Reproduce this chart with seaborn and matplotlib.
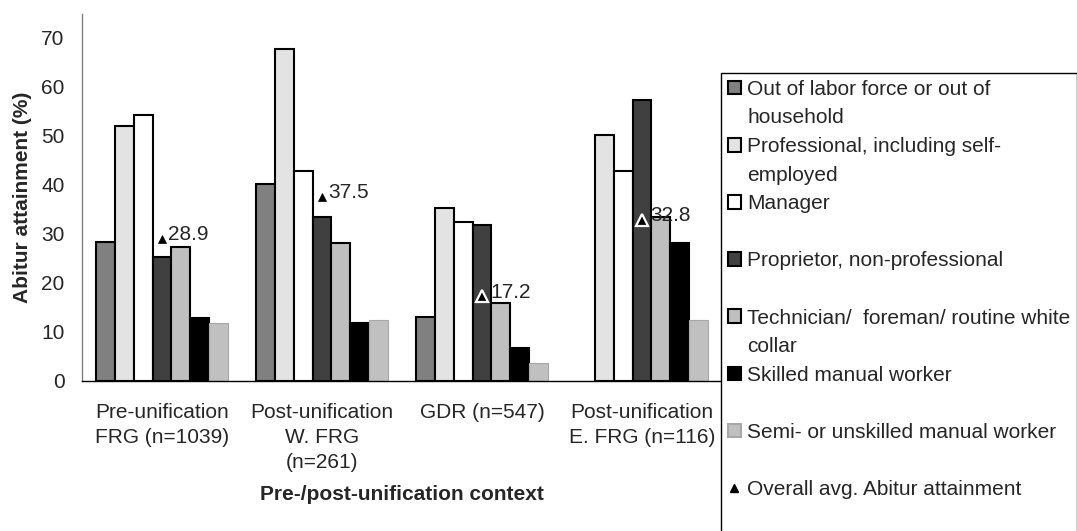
import matplotlib

matplotlib.use("Agg")

import matplotlib.pyplot as plt
from matplotlib.lines import Line2D
from matplotlib.patches import Patch
import numpy as np
import pandas as pd
import seaborn as sns

contexts = [
    "Pre-unification\nFRG (n=1039)",
    "Post-unification\nW. FRG\n(n=261)",
    "GDR (n=547)",
    "Post-unification\nE. FRG (n=116)",
]
classes = [
    "Out of labor force or out of household",
    "Professional, including self-employed",
    "Manager",
    "Proprietor, non-professional",
    "Technician/  foreman/ routine white collar",
    "Skilled manual worker",
    "Semi- or unskilled manual worker",
]
legend_lines = [
    ["Out of labor force or out of", "household"],
    ["Professional, including self-", "employed"],
    ["Manager", " "],
    ["Proprietor, non-professional", " "],
    ["Technician/  foreman/ routine white", "collar"],
    ["Skilled manual worker", " "],
    ["Semi- or unskilled manual worker", " "],
]
class_colors = ["#808080", "#e3e3e3", "#ffffff", "#404040", "#bfbfbf", "#000000", "#c0c0c0"]

out_of_labor = [28.2, 40.0, 13.0, np.nan]
professional = [52.0, 67.6, 35.3, 50.0]
manager = [54.2, 42.8, 32.4, 42.7]
proprietor = [25.2, 33.3, 31.7, 57.2]
technician = [27.3, 28.1, 15.9, 33.3]
skilled = [12.8, 11.9, 6.8, 28.0]
semi_unskilled = [11.9, 12.4, 3.6, 12.4]
overall_avg = [28.9, 37.5, 17.2, 32.8]

series = [out_of_labor, professional, manager, proprietor, technician, skilled, semi_unskilled]
rows = []
for cls, vals in zip(classes, series):
    for ctx, v in zip(contexts, vals):
        rows.append({"context": ctx, "class": cls, "value": v})
df = pd.DataFrame(rows).dropna()

FS = 15

sns.set_theme(style="white")
plt.rcParams["font.family"] = ["Liberation Sans", "DejaVu Sans"]
plt.rcParams["font.size"] = FS

fig = plt.figure(figsize=(10.77, 5.31), dpi=100)
ax = fig.add_axes([82 / 1077, 1 - 381 / 531, 640 / 1077, 367 / 531])

sns.barplot(
    data=df,
    x="context",
    y="value",
    hue="class",
    order=contexts,
    hue_order=classes,
    palette=class_colors,
    width=0.83,
    gap=0,
    edgecolor="black",
    linewidth=1.5,
    saturation=1,
    legend=False,
    ax=ax,
)
# lightest class has a soft grey outline
for patch in ax.containers[-1]:
    patch.set_edgecolor("#a8a8a8")
    patch.set_linewidth(0.8)

# overall averages, outlined in white when sitting on a dark bar
xs = np.arange(len(contexts))
for x, avg, prop in zip(xs, overall_avg, proprietor):
    on_bar = prop > avg
    size = 9 if on_bar else 6
    ax.plot(
        x, avg, marker="^", color="black", markersize=size,
        markeredgecolor="white" if on_bar else "black",
        markeredgewidth=1.6 if on_bar else 0.5, zorder=5,
    )
    ax.annotate(
        f"{avg:.1f}", (x, avg), xytext=(size / 2 + 1.5, -1),
        textcoords="offset points", ha="left", va="baseline", fontsize=FS, zorder=6,
    )

ax.set_xlim(-0.5, 3.5)
ax.set_ylim(0, 74.7)
ax.set_yticks(range(0, 71, 10))
ax.set_xticks(xs)
ax.set_xticklabels(contexts, linespacing=1.38)
ax.set_xticks([0.5, 1.5, 2.5], minor=True)
ax.tick_params(axis="x", which="major", length=0, pad=16, labelsize=FS)
ax.tick_params(axis="x", which="minor", direction="inout", length=9, width=1, color="black")
ax.tick_params(axis="y", direction="inout", length=9, width=1, color="#808080", pad=8, labelsize=FS)

sns.despine(ax=ax)
ax.spines["left"].set_color("#808080")
ax.spines["bottom"].set_color("black")
ax.spines["left"].set_linewidth(1)
ax.spines["bottom"].set_linewidth(1)

ax.set_ylabel("Abitur attainment (%)", fontweight="bold", fontsize=FS)
ax.set_xlabel("Pre-/post-unification context", fontweight="bold", fontsize=FS, va="center")
ax.yaxis.set_label_coords(-0.078, 0.5)
ax.xaxis.set_label_coords(0.5, -(494 - 381) / 367)

handles, labels = [], []
blank = Patch(facecolor="none", edgecolor="none")
for color, lines in zip(class_colors, legend_lines):
    edge = "#a8a8a8" if color == class_colors[-1] else "black"
    handles.append(Patch(facecolor=color, edgecolor=edge, linewidth=1.5))
    labels.append(lines[0])
    handles.append(blank)
    labels.append(lines[1])
handles.append(Line2D([], [], marker="^", color="black", linestyle="none", markersize=6))
labels.append("Overall avg. Abitur attainment")
# the legend box runs on past the bottom edge of the figure
handles.append(blank)
labels.append(" ")

fig.legend(
    handles, labels,
    loc="upper left", bbox_to_anchor=(721 / 1077, 1 - 73 / 531),
    borderaxespad=0, frameon=True, fancybox=False, edgecolor="black",
    framealpha=1, fontsize=FS, handlelength=0.63, handleheight=0.63,
    handletextpad=0.3, labelspacing=0.46, borderpad=0.33,
)

fig.savefig("out.png", dpi=100)
plt.close(fig)
